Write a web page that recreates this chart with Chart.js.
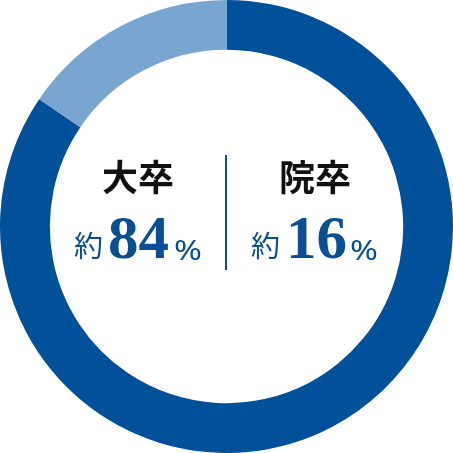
<!DOCTYPE html>
<html>
<head>
<meta charset="utf-8">
<script src="https://cdn.jsdelivr.net/npm/chart.js@4"></script>
<style>
  html, body { margin: 0; padding: 0; background: #fff; }
  #wrap { position: relative; width: 453px; height: 453px; }
  #wrap canvas { position: absolute; left: 0; top: 0; }
  .t { position: absolute; white-space: nowrap; line-height: 1; }
  .head { font-family: "Noto Sans CJK JP", sans-serif; font-weight: 700; font-size: 36px; color: #111; }
  .yaku { font-family: "Noto Sans CJK JP", sans-serif; font-size: 29px; color: #0a4f96; }
  .num { font-family: "Liberation Serif", "Times New Roman", serif; font-weight: 700; font-size: 61px; color: #0a4f96; }
  .pct { font-family: "Noto Sans", sans-serif; font-size: 28px; color: #0a4f96; transform: scaleX(1.2); transform-origin: left top; }
  #divider { position: absolute; left: 225px; top: 155px; width: 2px; height: 115px; background: #0a4f96; }
</style>
</head>
<body>
<div id="wrap">
  <canvas id="donut" width="453" height="453"></canvas>
  <div class="t head" style="left:102px; top:157px;">大卒</div>
  <div class="t head" style="left:279px; top:157px;">院卒</div>
  <div id="divider"></div>
  <div class="t yaku" style="left:74px; top:230px;">約</div>
  <div class="t num" style="left:108px; top:207px;" id="v0"></div>
  <div class="t pct" style="left:174px; top:235px;">%</div>
  <div class="t yaku" style="left:251px; top:230px;">約</div>
  <div class="t num" style="left:286px; top:207px;" id="v1"></div>
  <div class="t pct" style="left:350px; top:235px;">%</div>
</div>
<script>
const labels = ['大卒', '院卒'];
const shares = [84.5, 15.5];
const shownPercent = ['84', '16'];
const colors = ['#00509a', '#78a6d1'];

document.getElementById('v0').textContent = shownPercent[0];
document.getElementById('v1').textContent = shownPercent[1];

const ctx = document.getElementById('donut').getContext('2d');
new Chart(ctx, {
    type: 'doughnut',
    data: {
        labels: labels,
        datasets: [{
            data: shares,
            backgroundColor: colors,
            borderWidth: 0
        }]
    },
    options: {
        responsive: false,
        animation: false,
        cutout: '78%',
        layout: { padding: 0 },
        plugins: {
            legend: { display: false },
            tooltip: { enabled: false }
        }
    }
});
</script>
</body>
</html>
